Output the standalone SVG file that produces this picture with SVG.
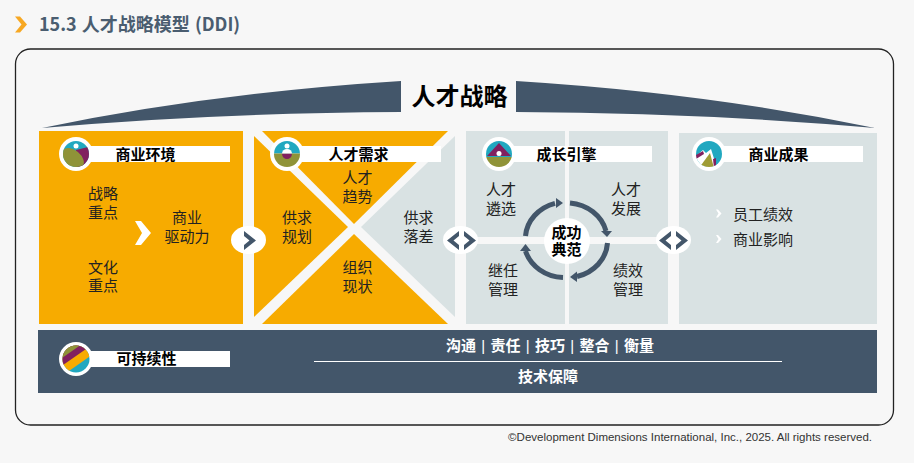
<svg xmlns="http://www.w3.org/2000/svg" width="914" height="463" viewBox="0 0 914 463">
<style>
text{font-family:"Liberation Sans","Noto Sans CJK SC",sans-serif;font-size:15px;fill:#222;text-anchor:middle}
.b{font-weight:700;fill:#000}
.w{font-weight:700;fill:#fff}
.t{font-weight:400}
.o{fill:#f7ab00}
.g{fill:#d9e2e3}
.d{fill:#43566a}
.wf{fill:#fff}
.bg{fill:#f7f7f7}
.arc{fill:none;stroke:#43566a;stroke-width:5}
</style>
<defs>
<clipPath id="c1"><circle cx="76" cy="154" r="13"/></clipPath>
<clipPath id="c2"><circle cx="287" cy="154" r="13"/></clipPath>
<clipPath id="c3"><circle cx="499" cy="154" r="13"/></clipPath>
<clipPath id="c4"><circle cx="709" cy="154" r="13"/></clipPath>
<clipPath id="c5"><circle cx="76" cy="359" r="13.500"/></clipPath>
</defs>
<rect width="914" height="463" class="bg"/>
<g id="title">
<path d="M15 16.500h5l7 8-7 8h-5l6.500-8z" fill="#f7a823"/>
<text x="39" y="31" style="font-family:'Noto Sans CJK SC',sans-serif;font-size:18px;font-weight:700;fill:#4a5d70;text-anchor:start;word-spacing:1px">15.3 人才战略模型 (DDI)</text>
</g>
<rect id="frame" x="15.500" y="49" width="878" height="376" rx="15" fill="#f7f7f7" stroke="#222" stroke-width="1.300"/>
<g id="banner">
<path class="d" d="M42 128Q210 93 401 81V112Q210 113 42 128Z"/>
<path class="d" d="M875 128Q707 93 516 81V112Q707 113 875 128Z"/>
<text class="b" x="459.500" y="105" style="font-size:24px">人才战略</text>
</g>
<g id="env">
<rect class="o" x="39" y="131" width="204" height="193"/>
<rect class="wf" x="76" y="146" width="154" height="16"/>
<circle class="wf" cx="76" cy="154" r="17"/>
<g clip-path="url(#c1)"><rect x="63" y="141" width="26" height="26" fill="#21a8c0"/><path d="M76 150L92 146V170H76Z" fill="#81205f"/><ellipse cx="72.500" cy="158.500" rx="13" ry="8.500" transform="rotate(40 72.500 158.500)" fill="#8f9338"/></g>
<circle class="wf" cx="76" cy="146" r="2.500"/>
<text class="b" x="145.500" y="160">商业环境</text>
<text><tspan x="103" y="199">战略</tspan><tspan x="103" dy="19">重点</tspan></text>
<text><tspan x="187" y="223">商业</tspan><tspan x="187" dy="19">驱动力</tspan></text>
<text><tspan x="103" y="273">文化</tspan><tspan x="103" dy="18">重点</tspan></text>
<path class="wf" d="M135 221h6l10 12-10 12h-6l7-12z"/>
</g>
<g id="demand">
<path class="o" d="M262 131H448L354 224Z"/>
<path class="o" d="M254 136L348 227 254 317Z"/>
<path class="o" d="M354 234L448 324H262Z"/>
<path class="g" d="M455 136V317L361 227Z"/>
<rect class="wf" x="287" y="146" width="154" height="16"/>
<circle class="wf" cx="287" cy="154" r="17"/>
<g clip-path="url(#c2)"><rect x="274" y="141" width="26" height="12.500" fill="#21a8c0"/><rect x="274" y="153.500" width="26" height="14" fill="#8f9338"/><path d="M282 153.500h10a5 5.500 0 0 1-10 0z" fill="#81205f"/><path d="M282 153.500a5 4.500 0 0 1 10 0z" fill="#fff"/></g>
<circle class="wf" cx="287" cy="146" r="2.500"/>
<text class="b" x="358.500" y="160">人才需求</text>
<text><tspan x="357.500" y="183">人才</tspan><tspan x="357.500" dy="18.500">趋势</tspan></text>
<text><tspan x="297" y="223">供求</tspan><tspan x="297" dy="18.500">规划</tspan></text>
<text><tspan x="418.500" y="223">供求</tspan><tspan x="418.500" dy="18.500">落差</tspan></text>
<text><tspan x="357.500" y="273">组织</tspan><tspan x="357.500" dy="18.500">现状</tspan></text>
</g>
<g id="growth">
<rect class="g" x="466" y="131" width="202" height="193"/>
<rect class="bg" x="565" y="131" width="4" height="193"/>
<rect class="bg" x="466" y="237" width="202" height="7"/>
<rect class="wf" x="499" y="146" width="153" height="16"/>
<circle class="wf" cx="499" cy="154" r="17"/>
<g clip-path="url(#c3)"><rect x="486" y="141" width="26" height="16" fill="#21a8c0"/><rect x="486" y="157" width="26" height="11" fill="#8f9338"/><path d="M499 143L511 156H487Z" fill="#81205f"/></g>
<circle class="wf" cx="499" cy="153.500" r="2.500"/>
<text class="b" x="566.500" y="160">成长引擎</text>
<text><tspan x="501" y="195">人才</tspan><tspan x="501" dy="19">遴选</tspan></text>
<text><tspan x="626" y="195">人才</tspan><tspan x="626" dy="19">发展</tspan></text>
<text><tspan x="503" y="276">继任</tspan><tspan x="503" dy="19">管理</tspan></text>
<text><tspan x="628" y="276">绩效</tspan><tspan x="628" dy="19">管理</tspan></text>
<ellipse class="wf" cx="567" cy="241" rx="23" ry="23"/>
<text class="b"><tspan x="566.500" y="238">成功</tspan><tspan x="566.500" dy="17">典范</tspan></text>
</g>
<g id="results">
<rect class="g" x="679" y="133" width="198" height="191"/>
<rect class="wf" x="709" y="146" width="154" height="16"/>
<circle class="wf" cx="709" cy="154" r="17"/>
<g clip-path="url(#c4)"><rect x="696" y="141" width="26" height="26" fill="#21a8c0"/><path d="M696 156L703 150 706 153 711 149 717 168H696Z" fill="#fff"/><path d="M699 168L710 153 714 168Z" fill="#9f9c35"/><path d="M696 155L703 151 704 154 696 159Z" fill="#81205f"/><path d="M713 159L716 158 716 168H714Z" fill="#81205f"/></g>
<text class="b" x="778.500" y="160">商业成果</text>
<text x="763" y="219.500">员工绩效</text>
<text x="763" y="245">商业影响</text>
<path class="wf" d="M716 209.500h2l3.500 4-3.500 4h-2l2.500-4z"/>
<path class="wf" d="M716 235h2l3.500 4-3.500 4h-2l2.500-4z"/>
</g>
<g id="sustain">
<rect class="d" x="38" y="330" width="839" height="63"/>
<rect class="wf" x="76" y="351" width="154" height="16"/>
<circle class="wf" cx="76" cy="359" r="17"/>
<g clip-path="url(#c5)"><g transform="rotate(-35 76 359)"><rect x="55" y="340" width="42" height="40" fill="#21a8c0"/><rect x="55" y="340" width="42" height="24.800" fill="#f7ab00"/><rect x="55" y="340" width="42" height="16.500" fill="#81205f"/><rect x="55" y="340" width="42" height="10.200" fill="#8f9338"/></g></g>
<text class="b" x="146.500" y="364">可持续性</text>
<text class="w" x="550" y="351" style="word-spacing:1.100px">沟通 <tspan class="t">|</tspan> 责任 <tspan class="t">|</tspan> 技巧 <tspan class="t">|</tspan> 整合 <tspan class="t">|</tspan> 衡量</text>
<rect class="wf" x="314" y="361" width="468" height="1"/>
<text class="w" x="548" y="382">技术保障</text>
</g>
<g id="connectors">
<ellipse class="wf" cx="248.500" cy="240" rx="17.500" ry="14"/>
<path class="d" d="M244 231L256 240.500 244 250V245L249.500 240.500 244 236Z"/>
<ellipse class="wf" cx="460.500" cy="240" rx="17.500" ry="14"/>
<path class="d" d="M459 231L447 240.500 459 250V245L453.500 240.500 459 236ZM464 231L476 240.500 464 250V245L469.500 240.500 464 236Z"/>
<ellipse class="wf" cx="673.500" cy="240" rx="17.500" ry="14"/>
<path class="d" d="M671 231L659 240.500 671 250V245L665.500 240.500 671 236ZM676 231L688 240.500 676 250V245L681.500 240.500 676 236Z"/>
<path class="arc" d="M525.500 236A41 37 0 0 1 555 203.300"/>
<path class="d" d="M556 198L563 203 556 208Z"/>
<path class="arc" d="M570 203A41 37 0 0 1 606 231"/>
<path class="d" d="M601 231H612L607 237Z"/>
<path class="arc" d="M607.500 243A41 37 0 0 1 577 276.500"/>
<path class="d" d="M577 271.500V282L570 277Z"/>
<path class="arc" d="M563 277.500A41 37 0 0 1 525.500 251"/>
<path class="d" d="M520 251H531L525.500 244Z"/>
</g>
<text id="copyright" x="872" y="441" style="font-family:'Liberation Sans',sans-serif;font-size:11.500px;text-anchor:end;fill:#333">©Development Dimensions International, Inc., 2025. All rights reserved.</text>
</svg>
